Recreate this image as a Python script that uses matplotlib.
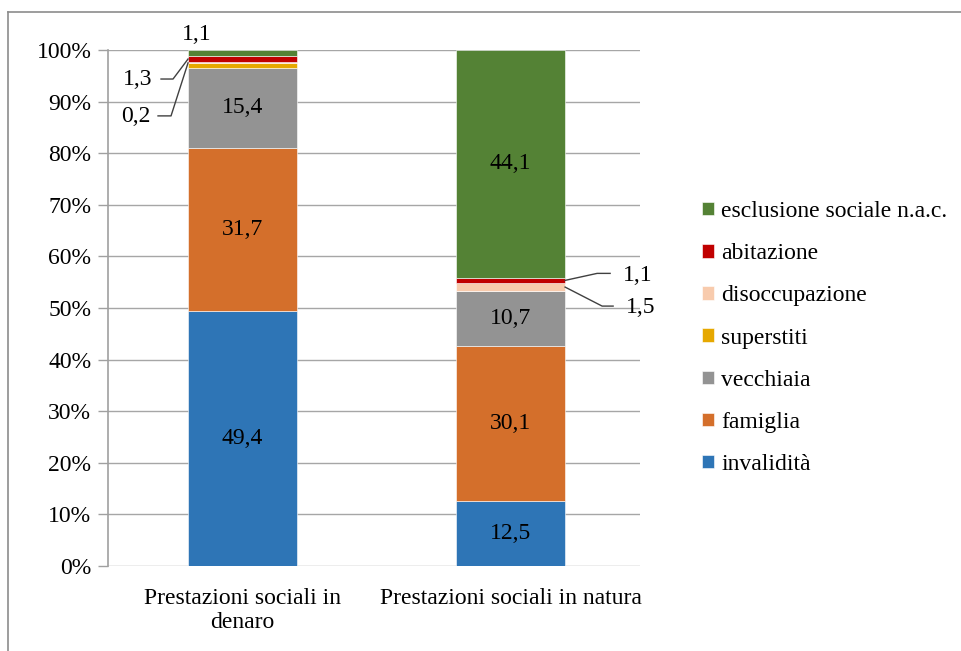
import numpy as np
import matplotlib.pyplot as plt
from matplotlib.lines import Line2D
from matplotlib.patches import Patch

plt.rcParams['font.family'] = ['Liberation Serif', 'DejaVu Serif']

categories = ['Prestazioni sociali in\ndenaro', 'Prestazioni sociali in natura']
series_names = ['invalidità', 'famiglia', 'vecchiaia', 'superstiti',
                'disoccupazione', 'abitazione', 'esclusione sociale n.a.c.']
values = {
    'invalidità': [49.4, 12.5],
    'famiglia': [31.7, 30.1],
    'vecchiaia': [15.4, 10.7],
    'superstiti': [0.9, 0.0],
    'disoccupazione': [0.2, 1.5],
    'abitazione': [1.3, 1.1],
    'esclusione sociale n.a.c.': [1.1, 44.1],
}
colors = {
    'invalidità': '#2E75B6',
    'famiglia': '#D46F2B',
    'vecchiaia': '#939393',
    'superstiti': '#E6A800',
    'disoccupazione': '#F8CBAD',
    'abitazione': '#C00000',
    'esclusione sociale n.a.c.': '#548235',
}
# segments labelled inside the bar
inside = ['invalidità', 'famiglia', 'vecchiaia', 'esclusione sociale n.a.c.']
yticks = np.arange(0, 101, 10)
FS = 17


def fmt(v):
    return f'{v:.1f}'.replace('.', ',')


fig = plt.figure(figsize=(9.62, 6.51), dpi=100)
ax = fig.add_axes([0.1123, 0.1306, 0.5530, 0.7926])

x = np.arange(len(categories))
width = 0.407
bottom = np.zeros(len(categories))
mids = {}
for name in series_names:
    vals = np.array(values[name])
    ax.bar(x, vals, width, bottom=bottom, color=colors[name],
           edgecolor='white', linewidth=0.4, zorder=3)
    mids[name] = bottom + vals / 2
    if name in inside:
        for i, v in enumerate(vals):
            if name == 'esclusione sociale n.a.c.' and i == 0:
                continue
            ax.text(x[i], mids[name][i], fmt(v), ha='center', va='center',
                    fontsize=FS, color='black', zorder=4)
    bottom = bottom + vals

ax.set_xlim(-0.502, 1.483)
ax.set_ylim(0, 100)
ax.set_yticks(yticks)
ax.set_yticklabels([f'{t}%' for t in yticks], fontsize=FS)
ax.set_xticks(x)
ax.set_xticklabels(categories, fontsize=FS, linespacing=1.15)
ax.tick_params(axis='x', length=0, pad=16)
ax.tick_params(axis='y', length=7, width=1, color='#A0A0A0', pad=5)
ax.grid(axis='y', color='#A6A6A6', linewidth=1, zorder=0)
for s in ['top', 'right', 'bottom']:
    ax.spines[s].set_visible(False)
ax.spines['left'].set_color('#A0A0A0')
ax.spines['left'].set_linewidth(1.2)

# outside labels with leader lines
px = 1.0 / 268  # data units per pixel on x
py = 100.0 / 516  # data units per pixel on y
left_edge = x[0] - width / 2
right_edge = x[1] + width / 2
lc = dict(color='#404040', linewidth=1, clip_on=False, zorder=5)

# top of left bar
ax.text(x[0] - 46 * px, 100 + 15 * py, fmt(values['esclusione sociale n.a.c.'][0]),
        ha='center', va='center', fontsize=FS)

# abitazione, left bar
ya = mids['abitazione'][0]
ax.plot([left_edge, left_edge - 15 * px, left_edge - 27 * px],
        [ya, ya - 20 * py, ya - 20 * py], **lc)
ax.text(left_edge - 50 * px, ya - 20 * py, fmt(values['abitazione'][0]),
        ha='center', va='center', fontsize=FS)

# disoccupazione, left bar
yd = mids['disoccupazione'][0]
ax.plot([left_edge, left_edge - 17 * px, left_edge - 30 * px],
        [yd, yd - 53 * py, yd - 53 * py], **lc)
ax.text(left_edge - 52 * px, yd - 54 * py, fmt(values['disoccupazione'][0]),
        ha='center', va='center', fontsize=FS)

# abitazione, right bar
ya = mids['abitazione'][1]
ax.plot([right_edge, right_edge + 32 * px, right_edge + 45 * px],
        [ya, ya + 7 * py, ya + 7 * py], **lc)
ax.text(right_edge + 73 * px, ya + 5 * py, fmt(values['abitazione'][1]),
        ha='center', va='center', fontsize=FS)

# disoccupazione, right bar
yd = mids['disoccupazione'][1]
ax.plot([right_edge, right_edge + 37 * px, right_edge + 48 * px],
        [yd, yd - 19 * py, yd - 19 * py], **lc)
ax.text(right_edge + 76 * px, yd - 20 * py, fmt(values['disoccupazione'][1]),
        ha='center', va='center', fontsize=FS)

# legend (reverse order)
handles = [Patch(facecolor=colors[n], edgecolor='white', linewidth=0.4)
           for n in series_names[::-1]]
fig.legend(handles, series_names[::-1], loc='center left',
           bbox_to_anchor=(0.7176, 1 - 338 / 651), frameon=False,
           fontsize=FS, handlelength=0.5, handleheight=0.5,
           handletextpad=0.3, labelspacing=0.895, borderpad=0)

# chart frame (partially visible)
fig.add_artist(Line2D([8 / 962, 1], [1 - 12 / 651, 1 - 12 / 651],
                      color='#8C8C8C', linewidth=1.2))
fig.add_artist(Line2D([8 / 962, 8 / 962], [0, 1 - 12 / 651],
                      color='#8C8C8C', linewidth=1.2))

fig.savefig('out.png', dpi=100)
